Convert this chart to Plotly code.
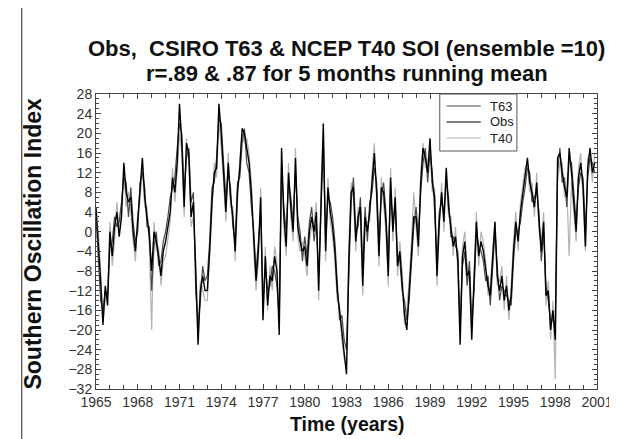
import plotly.graph_objects as go

# time grid: bi-monthly samples, 1965.0 .. 2000.83
start_year = 1965
steps_per_year = 6
n_points = 216
time = [start_year + k / steps_per_year for k in range(n_points)]

obs = [
    5, -2, -10, -19, -11, -15,    # 1965
    0, -5, 1, 4, -1, 3,           # 1966
    14, 8, 6, 7, 0, -4,           # 1967
    2, 8, 15, 7, 3, -1,           # 1968
    -8, 0, -2, -5, -9, -4,        # 1969
    -2, 1, 4, 11, 8, 14,          # 1970
    26, 18, 5, 18, 16, 3,         # 1971
    6, -8, -23, -12, -9, -12,     # 1972
    -12, -4, 6, 12, 13, 26,       # 1973
    20, 12, 4, 14, 7, 3,          # 1974
    -4, 8, 13, 21, 20, 17,        # 1975
    14, 8, -2, -10, -4, 7,        # 1976
    -18, -5, -15, -9, -10, -5,    # 1977
    -8, -21, 17, 3, -3, 12,       # 1978
    5, 0, 15, 1, -2, -4,          # 1979
    -3, -7, 0, 3, 0, 4,           # 1980
    -12, 8, 22, -4, 9, 4,         # 1981
    1, -4, -12, -16, -20, -24,    # 1982
    -29, -6, 8, 9, -2, 3,         # 1983
    5, -11, 3, 0, 4, 10,          # 1984
    16, 8, -5, 9, 8, 2,           # 1985
    -9, 11, 0, 7, -7, -4,         # 1986
    -10, -17, -20, -12, -4, 3,    # 1987
    3, -3, 10, 17, 15, 12,        # 1988
    19, 10, 7, -9, 2, 8,          # 1989
    2, 13, 5, 1, -3, -1,          # 1990
    -6, -23, -5, -2, -9, -8,      # 1991
    -22, -10, 2, -5, -2, -4,      # 1992
    -8, -11, -13, -6, 2, -9,      # 1993
    -12, -9, -14, -11, -16, -13,  # 1994
    -4, 2, -2, 4, 8, 11,          # 1995
    15, 10, 8, 5, 10, 2,          # 1996
    -4, 2, -13, -12, -20, -16,    # 1997
    -22, 15, 16, 12, 9, 7,        # 1998
    17, 12, 6, 0, 11, 14,         # 1999
    9, -3, 13, 17, 12, 14,        # 2000
]

t63 = [
    3, -5, -14, -16, -12, -13,    # 1965
    -3, -2, 3, 1, 2, 6,           # 1966
    11, 10, 3, 9, 2, -2,          # 1967
    0, 10, 12, 9, 1, 1,           # 1968
    -12, -3, 0, -7, -6, -2,       # 1969
    0, 3, 7, 9, 11, 17,           # 1970
    22, 20, 8, 15, 17, 6,         # 1971
    8, -12, -19, -14, -7, -10,    # 1972
    -9, -2, 9, 10, 15, 23,        # 1973
    22, 14, 7, 12, 9, 1,          # 1974
    -2, 10, 11, 18, 21, 14,       # 1975
    12, 5, 0, -8, -2, 4,          # 1976
    -14, -7, -12, -11, -7, -8,    # 1977
    -11, -17, 13, 5, 0, 10,       # 1978
    7, 2, 12, 3, 0, -6,           # 1979
    -1, -5, 2, 5, -2, 2,          # 1980
    -9, 6, 18, -1, 7, 6,          # 1981
    3, -2, -10, -18, -17, -22,    # 1982
    -24, -9, 6, 11, 0, 1,         # 1983
    7, -8, 5, -2, 6, 8,           # 1984
    13, 10, -2, 7, 10, 4,         # 1985
    -6, 8, 2, 5, -5, -6,          # 1986
    -12, -14, -18, -14, -6, 1,    # 1987
    5, -1, 8, 14, 17, 10,         # 1988
    16, 12, 4, -6, 4, 6,          # 1989
    4, 10, 7, -1, -1, -3,         # 1990
    -4, -19, -7, -4, -11, -6,     # 1991
    -18, -12, 0, -3, -4, -6,      # 1992
    -10, -9, -15, -8, 0, -7,      # 1993
    -14, -11, -12, -13, -14, -15, # 1994
    -6, 0, 0, 2, 6, 9,            # 1995
    13, 12, 6, 7, 8, 4,           # 1996
    -6, 0, -11, -14, -18, -18,    # 1997
    -19, 12, 17, 10, 11, 5,       # 1998
    15, 14, 8, 2, 9, 12,          # 1999
    11, 0, 11, 15, 14, 12,        # 2000
]

t40 = [
    2, 0, -8, -18, -14, -12,      # 1965
    2, -7, -2, 6, 0, 5,           # 1966
    12, 5, 8, 4, -2, -6,          # 1967
    4, 6, 13, 5, 5, -3,           # 1968
    -20, 2, -4, -3, -11, -6,      # 1969
    -5, -1, 2, 13, 6, 12,         # 1970
    20, 16, 3, 19, 14, 1,         # 1971
    3, -6, -21, -10, -12, -14,    # 1972
    -14, -6, 4, 14, 11, 22,       # 1973
    17, 10, 2, 16, 5, 5,          # 1974
    -6, 6, 15, 20, 18, 19,        # 1975
    16, 10, -4, -12, -6, 9,       # 1976
    -17, -3, -16, -7, -12, -3,    # 1977
    -6, -19, 14, 1, -5, 14,       # 1978
    3, -2, 17, -1, -4, -2,        # 1979
    -5, -9, -2, 1, 2, 6,          # 1980
    -14, 10, 20, -6, 11, 2,       # 1981
    -1, -6, -14, -15, -22, -26,   # 1982
    -27, -3, 10, 7, -4, 5,        # 1983
    3, -13, 1, 2, 2, 12,          # 1984
    18, 6, -7, 11, 6, 0,          # 1985
    -11, 13, -2, 9, -9, -2,       # 1986
    -8, -19, -16, -10, -2, 8,     # 1987
    1, -5, 12, 18, 13, 14,        # 1988
    17, 8, 9, -11, 0, 10,         # 1989
    0, 11, 3, 3, -5, 1,           # 1990
    -8, -21, -3, 0, -7, -10,      # 1991
    -20, -8, 4, -7, 0, -2,        # 1992
    -6, -13, -11, -4, 2, -11,     # 1993
    -10, -7, -16, -9, -18, -11,   # 1994
    -2, 4, -4, 6, 10, 13,         # 1995
    14, 8, 10, 3, 12, 0,          # 1996
    -2, 4, -15, -10, -22, -14,    # 1997
    -30, 10, 14, 14, 7, 9,        # 1998
    -5, 10, 4, -2, 13, 16,        # 1999
    7, -4, 15, 16, 10, 16,        # 2000
]

series_names = ["T63", "Obs", "T40"]
series_colors = {"T63": "#4a4a4a", "Obs": "#000000", "T40": "#b4b4b4"}
series_values = {"T63": t63, "Obs": obs, "T40": t40}

title_line1 = "Obs,\u00a0 CSIRO T63 & NCEP T40 SOI (ensemble =10)"
title_line2 = "r=.89 & .87 for 5 months running mean"
x_title = "Time (years)"
y_title = "Southern Oscillation Index"

FONT = "Liberation Sans, Arial, Helvetica, sans-serif"

fig = go.Figure()
for name, width in [("T40", 1.2), ("T63", 1.2), ("Obs", 1.4)]:
    fig.add_trace(go.Scatter(x=time, y=series_values[name], mode="lines", name=name,
                             line=dict(color=series_colors[name], width=width),
                             showlegend=False))

axis_common = dict(
    showgrid=False, zeroline=False, showline=True, linecolor="#444444",
    linewidth=1, mirror="allticks", ticks="inside", ticklen=5,
    tickcolor="#444444", tickfont=dict(family=FONT, size=14, color="#333333"),
)

fig.update_xaxes(range=[1965, 2001], tick0=1965, dtick=3,
                 minor=dict(dtick=1, ticks="inside", ticklen=4, tickcolor="#444444"),
                 **axis_common)
fig.update_yaxes(range=[-32, 28], tick0=-32, dtick=4,
                 minor=dict(dtick=1, ticks="inside", ticklen=3, tickcolor="#444444"),
                 **axis_common)

W, H = 617, 439
ml, mr, mt, mb = 88, 16, 86, 58
pw, ph = W - ml - mr, H - mt - mb

def px(x):
    return (x - ml) / pw

def py(y):
    return (H - mb - y) / ph

annos = [
    dict(text=f"<b>{title_line1}</b>", x=0.5, y=py(41), font=dict(size=22)),
    dict(text=f"<b>{title_line2}</b>", x=0.5, y=py(65), font=dict(size=22)),
    dict(text=f"<b>{x_title}</b>", x=px(346), y=py(416), font=dict(size=19.5)),
    dict(text=f"<b>{y_title}</b>", x=px(23), y=py(236), font=dict(size=23), textangle=-90),
]
for a in annos:
    a.update(xref="paper", yref="paper", showarrow=False,
             xanchor="center", yanchor="middle")
    a["font"].update(family=FONT, color="#111111")

# legend drawn as box + sample lines + labels
shapes = [dict(type="rect", xref="paper", yref="paper",
               x0=px(440), x1=px(519), y0=py(143), y1=py(86),
               line=dict(color="#555555", width=1), fillcolor="white", layer="above")]
for i, name in enumerate(series_names):
    yy = py(98 + 16 * i)
    shapes.append(dict(type="line", xref="paper", yref="paper",
                       x0=px(447), x1=px(482), y0=yy, y1=yy, layer="above",
                       line=dict(color=series_colors[name], width=1.2)))
    annos.append(dict(text=name, xref="paper", yref="paper", x=px(489), y=yy,
                      xanchor="left", yanchor="middle", showarrow=False,
                      font=dict(family=FONT, size=13, color="#222222")))

# outer figure frame (left and bottom edges)
shapes.append(dict(type="line", xref="paper", yref="paper",
                   x0=px(12), x1=px(12), y0=py(432), y1=py(0),
                   line=dict(color="#222222", width=1)))
shapes.append(dict(type="line", xref="paper", yref="paper",
                   x0=px(12), x1=px(617), y0=py(432), y1=py(432),
                   line=dict(color="#222222", width=1)))

fig.update_layout(
    width=W, height=H,
    margin=dict(l=ml, r=mr, t=mt, b=mb, pad=0),
    paper_bgcolor="white", plot_bgcolor="white",
    font=dict(family=FONT, color="#222222"),
    annotations=annos,
    shapes=shapes,
    showlegend=False,
)

fig.write_html("out.html")
